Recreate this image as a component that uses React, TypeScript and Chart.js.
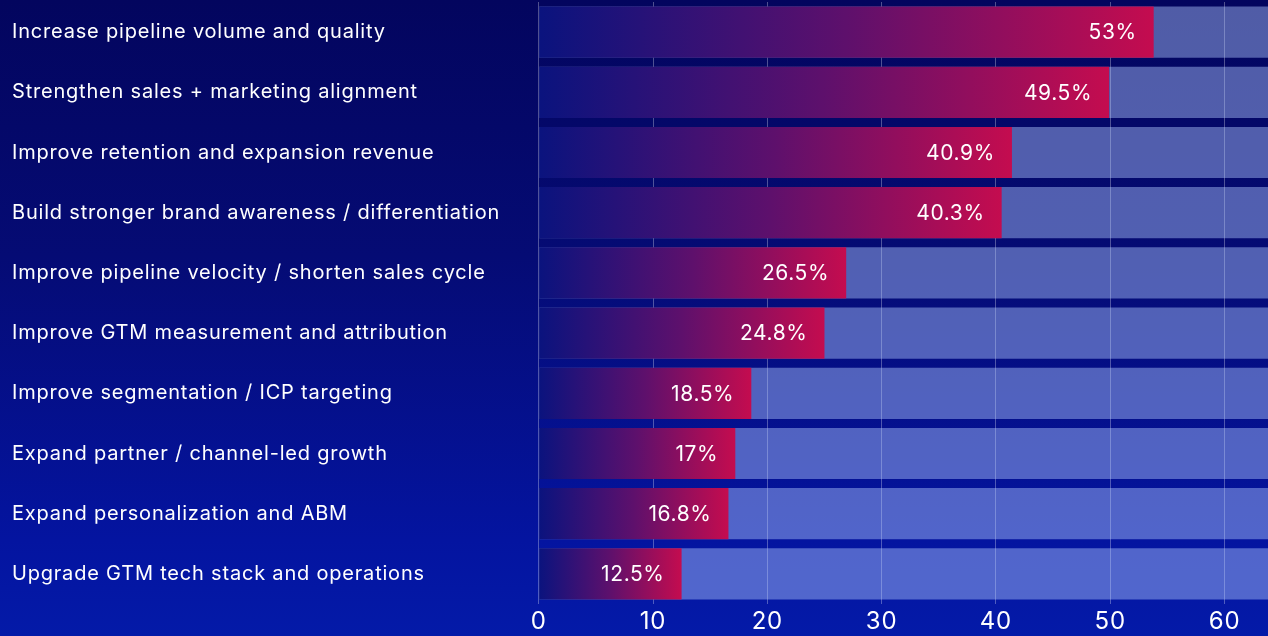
import React, { useEffect, useRef } from "react";
import { Chart, registerables } from "chart.js";

Chart.register(...registerables);

const categories = [
  "Increase pipeline volume and quality",
  "Strengthen sales + marketing alignment",
  "Improve retention and expansion revenue",
  "Build stronger brand awareness / differentiation",
  "Improve pipeline velocity / shorten sales cycle",
  "Improve GTM measurement and attribution",
  "Improve segmentation / ICP targeting",
  "Expand partner / channel-led growth",
  "Expand personalization and ABM",
  "Upgrade GTM tech stack and operations",
];

// bar lengths as drawn in the picture
const barValues = [53.8, 49.9, 41.4, 40.5, 26.9, 25.0, 18.6, 17.2, 16.6, 12.5];

// value labels printed on the bars
const valueLabels = ["53%", "49.5%", "40.9%", "40.3%", "26.5%", "24.8%", "18.5%", "17%", "16.8%", "12.5%"];

const axisMax = 63.8;
const tickStep = 10;

const FONT = "Inter, 'Noto Sans', sans-serif";

const spacingPlugin = {
  id: "letterSpacing",
  beforeDraw(chart: any) {
    try {
      chart.ctx.letterSpacing = "0.8px";
    } catch (e) {}
  },
};

const valueLabelPlugin = {
  id: "valueLabels",
  afterDatasetsDraw(chart: any) {
    const meta = chart.getDatasetMeta(0);
    const ctx = chart.ctx;
    ctx.save();
    try {
      ctx.letterSpacing = "0.6px";
    } catch (e) {}
    ctx.font = `400 21px ${FONT}`;
    ctx.fillStyle = "#ffffff";
    ctx.textAlign = "right";
    ctx.textBaseline = "middle";
    meta.data.forEach((bar: any, i: number) => {
      ctx.fillText(valueLabels[i], bar.x - 17, bar.y + 1);
    });
    ctx.restore();
  },
};

export default function App() {
  const canvasRef = useRef<HTMLCanvasElement | null>(null);

  useEffect(() => {
    const canvas = canvasRef.current;
    if (!canvas) return;
    const chart = new Chart(canvas, {
      type: "bar",
      data: {
        labels: categories,
        datasets: [
          {
            data: barValues,
            backgroundColor: (c: any) => {
              const ch = c.chart;
              const area = ch.chartArea;
              if (!area || !ch.scales.x) return "#c20c4e";
              const v = barValues[c.dataIndex] ?? 0;
              const xEnd = ch.scales.x.getPixelForValue(v);
              const g = ch.ctx.createLinearGradient(area.left, 0, Math.max(xEnd, area.left + 1), 0);
              g.addColorStop(0, "#0a137e");
              g.addColorStop(0.5, "#5e106c");
              g.addColorStop(1, "#c40c4f");
              return g;
            },
            borderWidth: 0,
            barPercentage: 0.85,
            categoryPercentage: 1,
            grouped: false,
          } as any,
          {
            data: categories.map(() => axisMax),
            backgroundColor: "rgba(175,200,255,0.45)",
            borderWidth: 0,
            barPercentage: 0.85,
            categoryPercentage: 1,
            grouped: false,
          } as any,
        ],
      },
      options: {
        indexAxis: "y",
        responsive: false,
        maintainAspectRatio: false,
        devicePixelRatio: 1,
        animation: false,
        layout: { padding: { left: 12, top: 2, right: 0, bottom: 0 } },
        plugins: {
          legend: { display: false },
          tooltip: { enabled: false },
        },
        scales: {
          x: {
            min: 0,
            max: axisMax,
            border: { display: false },
            grid: { color: "rgba(255,255,255,0.3)", drawTicks: false, lineWidth: 1 },
            ticks: {
              stepSize: tickStep,
              includeBounds: false,
              color: "#ffffff",
              font: { family: FONT, size: 24 },
              padding: 3,
            },
            afterFit: (s: any) => {
              s.height = 32;
              s.paddingLeft = 0;
              s.paddingRight = 0;
            },
          },
          y: {
            border: { display: false },
            grid: { display: false },
            ticks: {
              color: "#ffffff",
              font: { family: FONT, size: 20 },
              crossAlign: "far",
              padding: 0,
            },
            afterFit: (s: any) => {
              s.width = 526.7;
              s.paddingTop = 0;
              s.paddingBottom = 0;
            },
          },
        },
      } as any,
      plugins: [spacingPlugin, valueLabelPlugin],
    });
    return () => chart.destroy();
  }, []);

  return (
    <div
      style={{
        width: 1268,
        height: 636,
        background: "linear-gradient(180deg, #03055e 0%, #050b74 40%, #0414a0 85%, #041aa8 100%)",
      }}
    >
      <style>{`body{margin:0}`}</style>
      <canvas ref={canvasRef} width={1268} height={636} style={{ display: "block" }} />
    </div>
  );
}
